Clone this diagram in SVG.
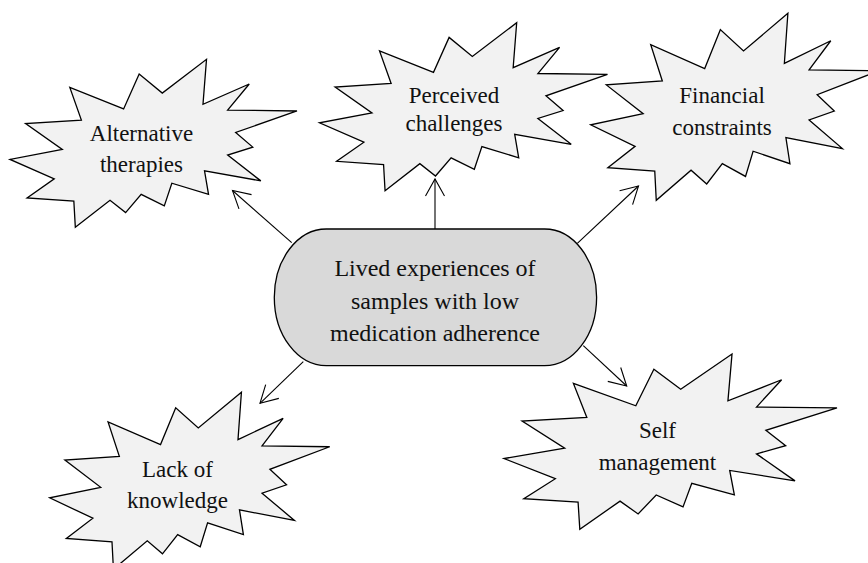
<svg xmlns="http://www.w3.org/2000/svg" xmlns:xlink="http://www.w3.org/1999/xlink" width="868" height="563" viewBox="0 0 868 563">
<style>
.burst{fill:#f2f2f2;stroke:#000;stroke-width:1.3;stroke-linejoin:miter}
text{font-family:'Liberation Serif','Times New Roman','DejaVu Serif',serif;fill:#111;text-anchor:middle}
.lbl{font-size:23px}
.clbl{font-size:24px}
.conn{stroke:#000;stroke-width:1.1;fill:none}
</style>
<defs>
<path id="seal" vector-effect="non-scaling-stroke" d="M9722,1887 L8550,6382 L4502,3625 L5372,7817 L1172,8270 L3935,11592 L0,12877 L3330,15370 L1285,17825 L4805,18240 L4917,21600 L7527,18125 L8700,19712 L9872,17370 L11612,18842 L12180,15935 L14942,17370 L14640,14350 L18877,15632 L16380,12310 L18270,11290 L16985,9402 L21600,6645 L16380,6532 L18007,3172 L14525,5777 L14790,0 L11462,4342 Z"/>
<marker id="arr" markerUnits="userSpaceOnUse" orient="auto" refX="0" refY="0" markerWidth="40" markerHeight="40" overflow="visible">
<path d="M-17,-9.5 L0,0 L-17,9.5" fill="none" stroke="#000" stroke-width="1.1"/>
</marker>
</defs>
<g id="connectors">
<line class="conn" x1="291.7" y1="242.7" x2="232.5" y2="190.5" marker-end="url(#arr)"/>
<line class="conn" x1="435" y1="229" x2="435" y2="179" marker-end="url(#arr)"/>
<line class="conn" x1="577.3" y1="243.3" x2="638.5" y2="186" marker-end="url(#arr)"/>
<line class="conn" x1="303.3" y1="361.7" x2="260" y2="403.3" marker-end="url(#arr)"/>
<line class="conn" x1="583.3" y1="345.7" x2="626.7" y2="386" marker-end="url(#arr)"/>
</g>
<g id="node-alternative">
<use xlink:href="#seal" class="burst" transform="translate(10,59.3) scale(0.013287,0.0077778)"/>
<text class="lbl" x="141.5" y="140.5" font-family="Liberation Serif, serif">Alternative</text>
<text class="lbl" x="141.5" y="171.5" font-family="Liberation Serif, serif">therapies</text>
</g>
<g id="node-perceived">
<use xlink:href="#seal" class="burst" transform="translate(319.5,22.7) scale(0.013333,0.0077778)"/>
<text class="lbl" x="454" y="103.3">Perceived</text>
<text class="lbl" x="454" y="130.7">challenges</text>
</g>
<g id="node-financial">
<use xlink:href="#seal" class="burst" transform="translate(590.7,13.3) scale(0.013333,0.0086574)"/>
<text class="lbl" x="722" y="102.7">Financial</text>
<text class="lbl" x="722" y="135">constraints</text>
</g>
<g id="node-lack">
<use xlink:href="#seal" class="burst" transform="translate(49.7,392.3) scale(0.012963,0.0081944)"/>
<text class="lbl" x="177.5" y="476.7">Lack of</text>
<text class="lbl" x="177.5" y="508.3">knowledge</text>
</g>
<g id="node-self">
<use xlink:href="#seal" class="burst" transform="translate(504,354) scale(0.015417,0.0081157)"/>
<text class="lbl" x="657.5" y="438.3">Self</text>
<text class="lbl" x="657.5" y="470">management</text>
</g>
<g id="node-center">
<rect x="274.3" y="229" width="322.3" height="136.7" rx="52" ry="68.3" fill="#d9d9d9" stroke="#000" stroke-width="1.3"/>
<text class="clbl" x="435" y="275.5">Lived experiences of</text>
<text class="clbl" x="435" y="308.5">samples with low</text>
<text class="clbl" x="435" y="341">medication adherence</text>
</g>
</svg>
